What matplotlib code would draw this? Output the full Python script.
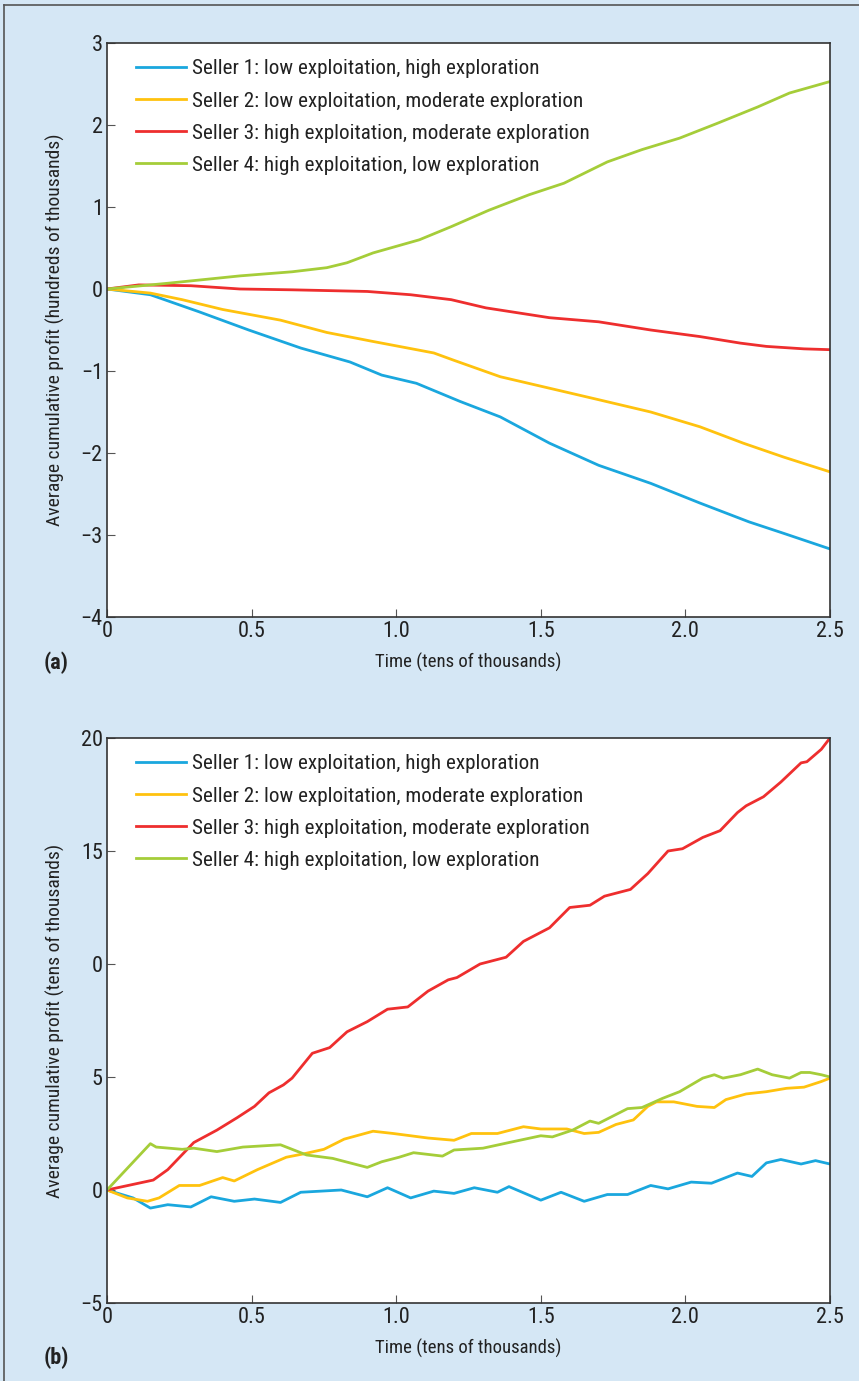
import matplotlib
matplotlib.use("Agg")
import matplotlib.pyplot as plt
from matplotlib.lines import Line2D

plt.rcParams['font.family'] = ['Liberation Sans Narrow', 'Roboto Condensed', 'Liberation Sans', 'DejaVu Sans']

labels = ["Seller 1: low exploitation, high exploration",
          "Seller 2: low exploitation, moderate exploration",
          "Seller 3: high exploitation, moderate exploration",
          "Seller 4: high exploitation, low exploration"]
colors = ["#1aa7de", "#ffc20e", "#ee2e2e", "#a5cd39"]

# panel (a): hundreds of thousands
a1_x = [0, 0.15, 0.32, 0.49, 0.67, 0.84, 0.95, 1.07, 1.22, 1.36, 1.53, 1.70, 1.88, 2.05, 2.22, 2.34, 2.5]
a1_y = [0, -0.07, -0.28, -0.5, -0.72, -0.89, -1.05, -1.15, -1.37, -1.56, -1.88, -2.15, -2.37, -2.61, -2.84, -2.98, -3.17]
a2_x = [0, 0.15, 0.26, 0.40, 0.60, 0.76, 0.92, 1.13, 1.20, 1.36, 1.53, 1.70, 1.88, 2.05, 2.20, 2.34, 2.5]
a2_y = [0, -0.05, -0.13, -0.25, -0.38, -0.53, -0.64, -0.78, -0.87, -1.07, -1.21, -1.35, -1.5, -1.68, -1.88, -2.05, -2.23]
a3_x = [0, 0.11, 0.29, 0.46, 0.64, 0.90, 1.05, 1.19, 1.31, 1.53, 1.70, 1.88, 2.05, 2.19, 2.28, 2.41, 2.5]
a3_y = [0, 0.05, 0.04, 0.0, -0.01, -0.03, -0.07, -0.13, -0.23, -0.35, -0.4, -0.5, -0.58, -0.66, -0.7, -0.73, -0.74]
a4_x = [0, 0.21, 0.46, 0.64, 0.76, 0.83, 0.92, 1.08, 1.19, 1.32, 1.46, 1.58, 1.73, 1.85, 1.98, 2.11, 2.25, 2.36, 2.5]
a4_y = [0, 0.07, 0.16, 0.21, 0.26, 0.32, 0.44, 0.6, 0.76, 0.96, 1.15, 1.29, 1.55, 1.7, 1.84, 2.02, 2.22, 2.39, 2.53]

# panel (b): tens of thousands
b1_x = [0, 0.09, 0.15, 0.21, 0.29, 0.36, 0.44, 0.51, 0.60, 0.67, 0.81, 0.90, 0.97, 1.05, 1.13, 1.20, 1.27,
        1.35, 1.39, 1.50, 1.57, 1.65, 1.73, 1.80, 1.88, 1.94, 2.02, 2.09, 2.18, 2.23, 2.28, 2.33, 2.40, 2.45, 2.5]
b1_y = [0, -0.35, -0.8, -0.65, -0.75, -0.3, -0.5, -0.4, -0.55, -0.1, 0.0, -0.3, 0.1, -0.35, -0.05, -0.15, 0.1,
        -0.1, 0.15, -0.45, -0.1, -0.5, -0.2, -0.2, 0.2, 0.05, 0.35, 0.3, 0.75, 0.6, 1.2, 1.35, 1.15, 1.3, 1.15]
b2_x = [0, 0.07, 0.14, 0.18, 0.25, 0.32, 0.40, 0.44, 0.52, 0.62, 0.68, 0.75, 0.82, 0.92, 0.99, 1.11, 1.20,
        1.26, 1.35, 1.44, 1.50, 1.59, 1.65, 1.70, 1.76, 1.82, 1.87, 1.90, 1.96, 2.04, 2.10, 2.14, 2.21, 2.28,
        2.35, 2.41, 2.47, 2.5]
b2_y = [0, -0.35, -0.5, -0.35, 0.2, 0.2, 0.55, 0.4, 0.9, 1.45, 1.6, 1.8, 2.25, 2.6, 2.5, 2.3, 2.2,
        2.5, 2.5, 2.8, 2.7, 2.7, 2.5, 2.55, 2.9, 3.1, 3.7, 3.9, 3.9, 3.7, 3.65, 4.0, 4.25, 4.35,
        4.5, 4.55, 4.8, 4.95]
b3_x = [0, 0.16, 0.21, 0.30, 0.38, 0.45, 0.51, 0.56, 0.61, 0.64, 0.71, 0.77, 0.83, 0.90, 0.97, 1.04, 1.06,
        1.11, 1.18, 1.21, 1.29, 1.35, 1.38, 1.44, 1.53, 1.60, 1.67, 1.72, 1.81, 1.87, 1.94, 1.99, 2.06, 2.12,
        2.18, 2.21, 2.27, 2.33, 2.40, 2.42, 2.47, 2.5]
b3_y = [0, 0.44, 0.9, 2.1, 2.65, 3.2, 3.7, 4.3, 4.65, 4.95, 6.05, 6.3, 7.0, 7.45, 8.0, 8.1, 8.3,
        8.8, 9.3, 9.4, 10.0, 10.2, 10.3, 11.0, 11.6, 12.5, 12.6, 13.0, 13.3, 14.0, 15.0, 15.1, 15.6, 15.9,
        16.7, 17.0, 17.4, 18.05, 18.9, 18.95, 19.5, 20.0]
b4_x = [0, 0.15, 0.17, 0.26, 0.30, 0.38, 0.47, 0.60, 0.62, 0.69, 0.78, 0.90, 0.95, 1.01, 1.06, 1.16, 1.20,
        1.30, 1.39, 1.50, 1.54, 1.61, 1.67, 1.70, 1.80, 1.85, 1.92, 1.98, 2.06, 2.10, 2.13, 2.19, 2.25, 2.30,
        2.36, 2.40, 2.43, 2.47, 2.5]
b4_y = [0, 2.05, 1.9, 1.8, 1.85, 1.7, 1.9, 2.0, 1.9, 1.55, 1.4, 1.0, 1.25, 1.45, 1.65, 1.5, 1.77,
        1.85, 2.1, 2.4, 2.35, 2.65, 3.05, 2.95, 3.6, 3.65, 4.05, 4.35, 4.95, 5.1, 4.95, 5.1, 5.35, 5.1,
        4.95, 5.2, 5.2, 5.1, 5.0]

x_ticks = [0, 0.5, 1.0, 1.5, 2.0, 2.5]
x_ticklabels = ["0", "0.5", "1.0", "1.5", "2.0", "2.5"]
a_yticks = [-4, -3, -2, -1, 0, 1, 2, 3]
a_yticklabels = ["\u22124", "\u22123", "\u22122", "\u22121", "0", "1", "2", "3"]
b_yticks = [-5, 0, 5, 10, 15, 20]
b_yticklabels = ["\u22125", "0", "5", "0", "15", "20"]

bg = "#d5e7f5"
txt = "#222222"
fs_tick = 16
fs_leg = 15.2
fs_xlab = 13.5
fs_ylab = 14
fig = plt.figure(figsize=(8.59, 13.81), dpi=100)
fig.patch.set_facecolor(bg)

W, H = 859, 1381


def make_axes(top_px, bottom_px):
    ax = fig.add_axes([107 / W, 1 - bottom_px / H, 723 / W, (bottom_px - top_px) / H])
    ax.set_facecolor("white")
    for s in ax.spines.values():
        s.set_color("#333333")
        s.set_linewidth(1.2)
    ax.tick_params(direction="in", length=6, width=0.8, color="#555555",
                   labelsize=fs_tick, labelcolor=txt, top=False, right=False, pad=3)
    ax.set_xlim(0, 2.5)
    ax.set_xticks(x_ticks)
    ax.set_xticklabels(x_ticklabels)
    return ax


def add_legend(ax):
    ax.legend(loc="upper left", frameon=False, fontsize=fs_leg, handlelength=2.35,
              handletextpad=0.3, labelspacing=0.62, borderaxespad=0.3,
              bbox_to_anchor=(0.02, 0.997), labelcolor=txt)


ax1 = make_axes(43, 617)
for xs, ys, c, lab in zip([a1_x, a2_x, a3_x, a4_x], [a1_y, a2_y, a3_y, a4_y], colors, labels):
    ax1.plot(xs, ys, color=c, lw=2.0, label=lab)
ax1.set_ylim(-4, 3)
ax1.set_yticks(a_yticks)
ax1.set_yticklabels(a_yticklabels)
ax1.set_xlabel("Time (tens of thousands)", fontsize=fs_xlab, color=txt, labelpad=8)
ax1.set_ylabel("Average cumulative profit (hundreds of thousands)", fontsize=fs_ylab,
               color=txt, labelpad=11)
add_legend(ax1)

ax2 = make_axes(738, 1303)
for xs, ys, c, lab in zip([b1_x, b2_x, b3_x, b4_x], [b1_y, b2_y, b3_y, b4_y], colors, labels):
    ax2.plot(xs, ys, color=c, lw=2.0, label=lab)
ax2.set_ylim(-5, 20)
ax2.set_yticks(b_yticks)
ax2.set_yticklabels(b_yticklabels)
ax2.set_xlabel("Time (tens of thousands)", fontsize=fs_xlab, color=txt, labelpad=8)
ax2.set_ylabel("Average cumulative profit (tens of thousands)", fontsize=fs_ylab,
               color=txt, labelpad=11)
add_legend(ax2)

fig.text(44 / W, 1 - 663 / H, "(a)", fontsize=16, fontweight="bold", color=txt, va="center")
fig.text(44 / W, 1 - 1358 / H, "(b)", fontsize=16, fontweight="bold", color=txt, va="center")

# outer frame (top and left)
fig.add_artist(Line2D([4 / W, 1], [1 - 5 / H, 1 - 5 / H], transform=fig.transFigure, color="#555555", lw=1.2))
fig.add_artist(Line2D([4 / W, 4 / W], [0, 1 - 5 / H], transform=fig.transFigure, color="#555555", lw=1.2))

fig.savefig("out.png", dpi=100, facecolor=bg)
